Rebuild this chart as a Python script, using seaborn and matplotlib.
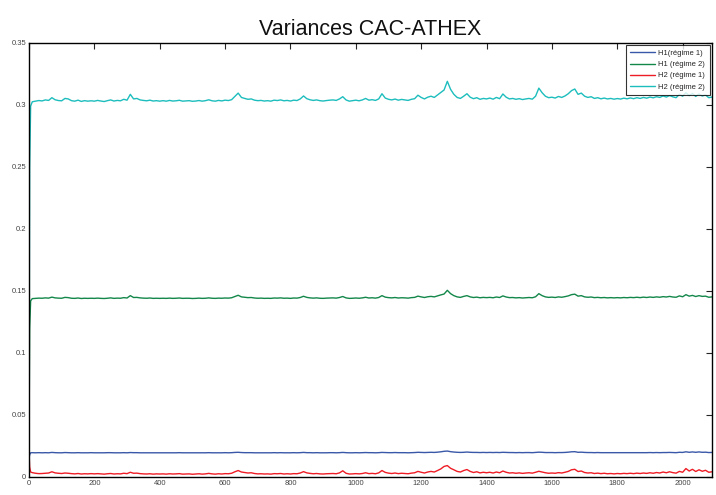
import numpy as np
import pandas as pd
import matplotlib
matplotlib.use("Agg")
import matplotlib.pyplot as plt
import seaborn as sns

# series labels, as in the legend
labels = ["H1(régime 1)", "H1 (régime 2)", "H2 (régime 1)", "H2 (régime 2)"]

# first samples (t = 0, 2, 5), then one value every 10 observations from t = 10
head_t = [0, 2, 5]

h1_r1_head = [0.0150, 0.0180, 0.0195]
h1_r1 = [
    0.0196, 0.0195, 0.0196, 0.0195, 0.0196, 0.0195, 0.0198, 0.0196, 0.0195, 0.0195,
    0.0197, 0.0196, 0.0195, 0.0195, 0.0196, 0.0195, 0.0195, 0.0195, 0.0196, 0.0195,
    0.0195, 0.0195, 0.0195, 0.0196, 0.0196, 0.0195, 0.0195, 0.0195, 0.0196, 0.0195,
    0.0197, 0.0196, 0.0196, 0.0195, 0.0195, 0.0195, 0.0195, 0.0195, 0.0195, 0.0195,
    0.0195, 0.0195, 0.0195, 0.0195, 0.0195, 0.0196, 0.0195, 0.0195, 0.0195, 0.0195,
    0.0195, 0.0195, 0.0195, 0.0195, 0.0196, 0.0195, 0.0195, 0.0195, 0.0195, 0.0196,
    0.0195, 0.0196, 0.0198, 0.0199, 0.0197, 0.0196, 0.0196, 0.0196, 0.0195, 0.0195,
    0.0195, 0.0195, 0.0195, 0.0195, 0.0196, 0.0195, 0.0196, 0.0195, 0.0195, 0.0195,
    0.0196, 0.0195, 0.0196, 0.0198, 0.0196, 0.0196, 0.0195, 0.0196, 0.0195, 0.0195,
    0.0195, 0.0196, 0.0196, 0.0195, 0.0196, 0.0198, 0.0196, 0.0195, 0.0195, 0.0196,
    0.0195, 0.0196, 0.0197, 0.0196, 0.0196, 0.0195, 0.0196, 0.0198, 0.0197, 0.0196,
    0.0196, 0.0197, 0.0196, 0.0196, 0.0196, 0.0195, 0.0196, 0.0197, 0.0199, 0.0198,
    0.0197, 0.0198, 0.0199, 0.0198, 0.0200, 0.0203, 0.0207, 0.0209, 0.0204, 0.0201,
    0.0199, 0.0198, 0.0199, 0.0201, 0.0199, 0.0198, 0.0198, 0.0197, 0.0198, 0.0197,
    0.0198, 0.0197, 0.0198, 0.0197, 0.0199, 0.0198, 0.0197, 0.0197, 0.0196, 0.0197,
    0.0196, 0.0197, 0.0197, 0.0196, 0.0198, 0.0200, 0.0199, 0.0197, 0.0197, 0.0197,
    0.0196, 0.0197, 0.0197, 0.0198, 0.0200, 0.0203, 0.0204, 0.0199, 0.0200, 0.0198,
    0.0197, 0.0197, 0.0196, 0.0197, 0.0196, 0.0196, 0.0196, 0.0196, 0.0196, 0.0196,
    0.0196, 0.0196, 0.0196, 0.0196, 0.0196, 0.0196, 0.0196, 0.0196, 0.0196, 0.0197,
    0.0196, 0.0197, 0.0196, 0.0197, 0.0197, 0.0198, 0.0197, 0.0196, 0.0199, 0.0198,
    0.0203, 0.0199, 0.0202, 0.0199, 0.0202, 0.0199, 0.0200, 0.0197, 0.0198, 0.0197,
]

h1_r2_head = [0.0200, 0.1200, 0.1420]
h1_r2 = [
    0.1438, 0.1440, 0.1442, 0.1441, 0.1444, 0.1442, 0.1450, 0.1444, 0.1442, 0.1441,
    0.1448, 0.1446, 0.1441, 0.1440, 0.1443, 0.1439, 0.1441, 0.1440, 0.1441, 0.1440,
    0.1442, 0.1440, 0.1439, 0.1441, 0.1444, 0.1440, 0.1442, 0.1441, 0.1446, 0.1443,
    0.1462, 0.1447, 0.1448, 0.1444, 0.1442, 0.1441, 0.1443, 0.1440, 0.1441, 0.1440,
    0.1441, 0.1440, 0.1442, 0.1440, 0.1441, 0.1443, 0.1440, 0.1441, 0.1441, 0.1439,
    0.1440, 0.1442, 0.1440, 0.1441, 0.1444, 0.1441, 0.1440, 0.1442, 0.1441, 0.1443,
    0.1442, 0.1445, 0.1455, 0.1465, 0.1452, 0.1449, 0.1446, 0.1447, 0.1443, 0.1441,
    0.1442, 0.1440, 0.1441, 0.1440, 0.1443, 0.1442, 0.1444, 0.1441, 0.1442, 0.1440,
    0.1443, 0.1442, 0.1447, 0.1457, 0.1448, 0.1444, 0.1442, 0.1444, 0.1441, 0.1440,
    0.1442, 0.1443, 0.1444, 0.1442, 0.1447, 0.1455, 0.1444, 0.1440, 0.1441, 0.1443,
    0.1441, 0.1444, 0.1449, 0.1443, 0.1445, 0.1442, 0.1447, 0.1462, 0.1450, 0.1446,
    0.1444, 0.1447, 0.1443, 0.1445, 0.1444, 0.1442, 0.1446, 0.1448, 0.1458, 0.1452,
    0.1447, 0.1453, 0.1456, 0.1452, 0.1460, 0.1468, 0.1475, 0.1505, 0.1478, 0.1462,
    0.1452, 0.1448, 0.1456, 0.1462, 0.1452, 0.1447, 0.1450, 0.1445, 0.1448, 0.1446,
    0.1448, 0.1445, 0.1451, 0.1447, 0.1460, 0.1451, 0.1446, 0.1447, 0.1444, 0.1446,
    0.1443, 0.1445, 0.1447, 0.1445, 0.1453, 0.1478, 0.1462, 0.1452, 0.1448, 0.1450,
    0.1447, 0.1452, 0.1449, 0.1454, 0.1460, 0.1470, 0.1474, 0.1458, 0.1462, 0.1452,
    0.1449, 0.1451, 0.1446, 0.1448, 0.1445, 0.1447, 0.1444, 0.1446, 0.1444, 0.1446,
    0.1444, 0.1447, 0.1445, 0.1448, 0.1446, 0.1449, 0.1446, 0.1450, 0.1447, 0.1451,
    0.1448, 0.1452, 0.1449, 0.1454, 0.1451, 0.1456, 0.1451, 0.1449, 0.1460, 0.1453,
    0.1470, 0.1458, 0.1464, 0.1455, 0.1462, 0.1456, 0.1458, 0.1449, 0.1452, 0.1450,
]

h2_r1_head = [0.0210, 0.0080, 0.0040]
h2_r1 = [
    0.0035, 0.0030, 0.0027, 0.0028, 0.0030, 0.0032, 0.0042, 0.0033, 0.0030, 0.0028,
    0.0032, 0.0030, 0.0027, 0.0025, 0.0028, 0.0024, 0.0026, 0.0025, 0.0027, 0.0025,
    0.0027, 0.0025, 0.0023, 0.0026, 0.0028, 0.0024, 0.0026, 0.0025, 0.0030, 0.0027,
    0.0038, 0.0030, 0.0031, 0.0027, 0.0025, 0.0024, 0.0026, 0.0023, 0.0025, 0.0024,
    0.0025, 0.0023, 0.0026, 0.0024, 0.0025, 0.0027, 0.0023, 0.0024, 0.0025, 0.0022,
    0.0024, 0.0026, 0.0023, 0.0025, 0.0029, 0.0025, 0.0023, 0.0026, 0.0024, 0.0027,
    0.0026, 0.0030, 0.0042, 0.0052, 0.0040, 0.0036, 0.0032, 0.0034, 0.0028, 0.0025,
    0.0026, 0.0024, 0.0025, 0.0023, 0.0027, 0.0026, 0.0028, 0.0024, 0.0026, 0.0024,
    0.0027, 0.0026, 0.0032, 0.0043, 0.0033, 0.0029, 0.0026, 0.0028, 0.0025, 0.0024,
    0.0026, 0.0027, 0.0028, 0.0026, 0.0033, 0.0050, 0.0030, 0.0024, 0.0025, 0.0027,
    0.0025, 0.0028, 0.0034, 0.0027, 0.0029, 0.0026, 0.0033, 0.0052, 0.0037, 0.0031,
    0.0028, 0.0032, 0.0027, 0.0030, 0.0028, 0.0026, 0.0031, 0.0034, 0.0045, 0.0038,
    0.0032, 0.0040, 0.0045, 0.0040, 0.0052, 0.0065, 0.0085, 0.0092, 0.0070, 0.0058,
    0.0045, 0.0040, 0.0052, 0.0060, 0.0045, 0.0036, 0.0042, 0.0033, 0.0038, 0.0034,
    0.0038, 0.0032, 0.0040, 0.0034, 0.0048, 0.0038, 0.0032, 0.0034, 0.0030, 0.0033,
    0.0029, 0.0032, 0.0034, 0.0031, 0.0038, 0.0046, 0.0040, 0.0034, 0.0030, 0.0032,
    0.0030, 0.0035, 0.0032, 0.0038, 0.0045, 0.0058, 0.0062, 0.0044, 0.0048, 0.0036,
    0.0032, 0.0034, 0.0028, 0.0031, 0.0027, 0.0030, 0.0026, 0.0028, 0.0025, 0.0028,
    0.0026, 0.0029, 0.0027, 0.0030, 0.0027, 0.0031, 0.0028, 0.0032, 0.0029, 0.0034,
    0.0030, 0.0036, 0.0032, 0.0040, 0.0034, 0.0042, 0.0035, 0.0031, 0.0045, 0.0038,
    0.0068, 0.0048, 0.0062, 0.0044, 0.0058, 0.0046, 0.0054, 0.0038, 0.0042, 0.0040,
]

h2_r2_head = [0.0180, 0.2500, 0.2990]
h2_r2 = [
    0.3025, 0.3030, 0.3035, 0.3032, 0.3040, 0.3036, 0.3058, 0.3041, 0.3035, 0.3033,
    0.3052, 0.3048, 0.3034, 0.3030, 0.3038, 0.3028, 0.3034, 0.3030, 0.3033, 0.3030,
    0.3036, 0.3031, 0.3027, 0.3034, 0.3040, 0.3031, 0.3036, 0.3033, 0.3045, 0.3038,
    0.3085, 0.3048, 0.3052, 0.3040, 0.3036, 0.3033, 0.3038, 0.3031, 0.3034, 0.3030,
    0.3034, 0.3030, 0.3036, 0.3031, 0.3033, 0.3037, 0.3030, 0.3032, 0.3034, 0.3029,
    0.3031, 0.3035, 0.3030, 0.3034, 0.3041, 0.3033, 0.3030, 0.3036, 0.3032, 0.3038,
    0.3035, 0.3042, 0.3068, 0.3095, 0.3060, 0.3052, 0.3045, 0.3048, 0.3038, 0.3034,
    0.3036, 0.3031, 0.3034, 0.3030, 0.3038, 0.3035, 0.3040, 0.3033, 0.3036, 0.3031,
    0.3038, 0.3035, 0.3048, 0.3072, 0.3050, 0.3041, 0.3036, 0.3040, 0.3034, 0.3031,
    0.3035, 0.3038, 0.3040, 0.3036, 0.3048, 0.3066, 0.3040, 0.3030, 0.3034, 0.3038,
    0.3033, 0.3040, 0.3052, 0.3038, 0.3042, 0.3036, 0.3048, 0.3090, 0.3055, 0.3045,
    0.3040, 0.3047, 0.3038, 0.3044, 0.3040, 0.3036, 0.3045, 0.3050, 0.3078, 0.3060,
    0.3048, 0.3062, 0.3070, 0.3060, 0.3080, 0.3100, 0.3120, 0.3190, 0.3125, 0.3085,
    0.3060, 0.3052, 0.3070, 0.3090, 0.3062, 0.3050, 0.3058, 0.3045, 0.3052, 0.3048,
    0.3055, 0.3046, 0.3060, 0.3050, 0.3088, 0.3062, 0.3048, 0.3052, 0.3045, 0.3050,
    0.3043, 0.3048, 0.3052, 0.3046, 0.3070, 0.3135, 0.3098, 0.3070, 0.3058, 0.3062,
    0.3055, 0.3068, 0.3060, 0.3072, 0.3090, 0.3115, 0.3128, 0.3085, 0.3095, 0.3070,
    0.3060, 0.3066, 0.3052, 0.3058, 0.3049, 0.3055, 0.3048, 0.3052, 0.3046, 0.3051,
    0.3047, 0.3054, 0.3049, 0.3056, 0.3050, 0.3058, 0.3052, 0.3060, 0.3054, 0.3063,
    0.3057, 0.3066, 0.3060, 0.3072, 0.3063, 0.3075, 0.3065, 0.3058, 0.3085, 0.3070,
    0.3098, 0.3075, 0.3092, 0.3068, 0.3088, 0.3072, 0.3080, 0.3058, 0.3063, 0.3060,
]

x_ticks = [0, 200, 400, 600, 800, 1000, 1200, 1400, 1600, 1800, 2000]
y_ticks = [0, 0.05, 0.1, 0.15, 0.2, 0.25, 0.3, 0.35]
y_tick_labels = ["0", "0.05", "0.1", "0.15", "0.2", "0.25", "0.3", "0.35"]

colors = ["#3a58a8", "#13874a", "#ee1c25", "#1dbdbd"]

# long-format frame for seaborn
t = list(head_t) + [10 * (i + 1) for i in range(len(h1_r1))]
frames = []
for lab, head, body in zip(labels,
                           [h1_r1_head, h1_r2_head, h2_r1_head, h2_r2_head],
                           [h1_r1, h1_r2, h2_r1, h2_r2]):
    frames.append(pd.DataFrame({"t": t, "var": head + body, "serie": lab}))
df = pd.concat(frames, ignore_index=True)

sns.set_style("white")
plt.rcParams["font.family"] = ["Liberation Sans", "DejaVu Sans"]

fig = plt.figure(figsize=(7.16, 4.95), dpi=100)
ax = fig.add_axes([0.0405, 0.0364, 0.954, 0.877])

sns.lineplot(data=df, x="t", y="var", hue="serie", hue_order=labels,
             palette=colors, estimator=None, linewidth=1.0, ax=ax)

ax.set_xlim(0, 2090)
ax.set_ylim(0, 0.35)
ax.set_xticks(x_ticks)
ax.set_xticklabels([str(v) for v in x_ticks])
ax.set_yticks(y_ticks)
ax.set_yticklabels(y_tick_labels)
ax.set_xlabel("")
ax.set_ylabel("")
ax.tick_params(direction="in", length=4, width=0.8, labelsize=5.5,
               labelcolor="#444444", top=True, right=True, pad=2)
for s in ax.spines.values():
    s.set_visible(True)
    s.set_color("black")
    s.set_linewidth(1.0)

ax.set_title("Variances CAC-ATHEX", fontsize=15.5, color="#111111", pad=6)

leg = ax.legend(loc="upper right", fontsize=5.5, frameon=True, fancybox=False,
                handlelength=3.2, borderpad=0.6, labelspacing=0.5,
                borderaxespad=0.3, handletextpad=0.5)
leg.get_frame().set_edgecolor("black")
leg.get_frame().set_linewidth(0.8)
for line in leg.get_lines():
    line.set_linewidth(1.0)

fig.savefig("out.png", dpi=100)
